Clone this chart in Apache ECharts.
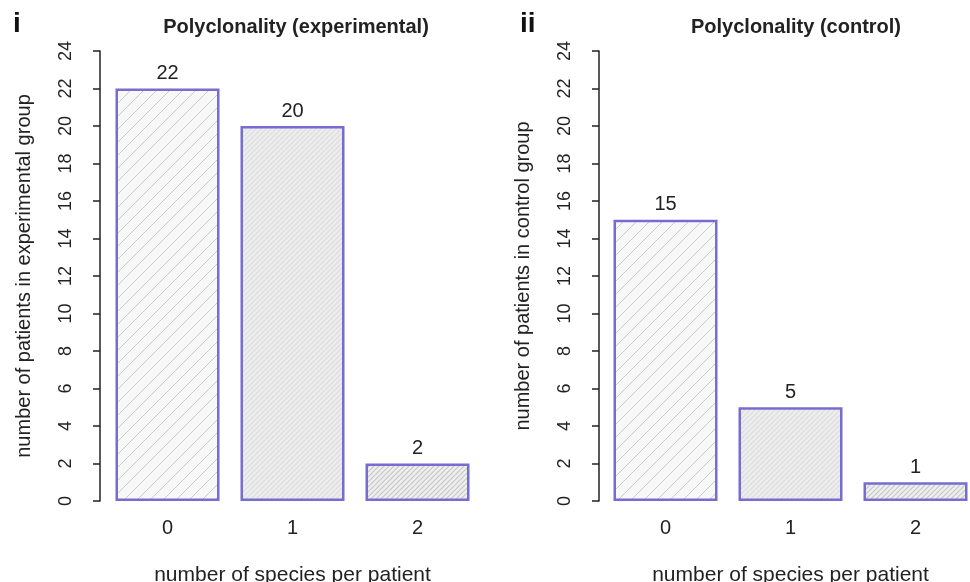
<!DOCTYPE html>
<html>
<head>
<meta charset="utf-8">
<script src="https://cdn.jsdelivr.net/npm/echarts@6/dist/echarts.min.js"></script>
<style>
html,body{margin:0;padding:0;background:#fff;}
#chart{width:970px;height:582px;}
</style>
</head>
<body>
<div id="chart"></div>
<script>
const categories = ['0', '1', '2'];
const experimentalValues = [22, 20, 2];
const controlValues = [15, 5, 1];
const yTicks = [0, 2, 4, 6, 8, 10, 12, 14, 16, 18, 20, 22, 24];
const titles = ['Polyclonality (experimental)', 'Polyclonality (control)'];
const panelLabels = ['i', 'ii'];
const yNames = ['number of patients in experimental group', 'number of patients in control group'];
const xName = 'number of species per patient';

function hatch(size, bg, line, lw) {
  const c = document.createElement('canvas');
  c.width = size; c.height = size;
  const ctx = c.getContext('2d');
  ctx.fillStyle = bg; ctx.fillRect(0, 0, size, size);
  ctx.strokeStyle = line; ctx.lineWidth = lw;
  ctx.beginPath();
  for (let k = -1; k <= 1; k++) {
    ctx.moveTo(k * size, size);
    ctx.lineTo(k * size + size, 0);
  }
  ctx.stroke();
  return c;
}
const patterns = [
  { image: hatch(13, '#f8f8f8', '#cbcbcb', 1), repeat: 'repeat' },
  { image: hatch(5, '#ededed', '#dcdcdc', 1.2), repeat: 'repeat' },
  { image: hatch(5, '#eeeeee', '#c6c6c6', 1.2), repeat: 'repeat' }
];

const font = 'Liberation Sans, Arial, sans-serif';
const border = '#776dcf';
const textColor = '#222';

function mkData(vals) {
  return vals.map((v, i) => ({ value: v, itemStyle: { color: patterns[i] } }));
}

const grids = [
  { left: 105, top: 51, width: 375, height: 450, containLabel: false, outerBoundsMode: 'none' },
  { left: 603, top: 51, width: 375, height: 450, containLabel: false, outerBoundsMode: 'none' }
];
const yOffsets = [5, 4];

const option = {
  animation: false,
  backgroundColor: '#ffffff',
  title: [
    { text: titles[0], left: 291, top: 12, textAlign: 'center', textStyle: { fontFamily: font, fontSize: 20, fontWeight: 'bold', color: textColor } },
    { text: titles[1], left: 791, top: 12, textAlign: 'center', textStyle: { fontFamily: font, fontSize: 20, fontWeight: 'bold', color: textColor } },
    { text: panelLabels[0], left: 8, top: 5, textStyle: { fontFamily: font, fontSize: 28, fontWeight: 'bold', color: '#111' } },
    { text: panelLabels[1], left: 515, top: 5, textStyle: { fontFamily: font, fontSize: 28, fontWeight: 'bold', color: '#111' } }
  ],
  grid: grids,
  xAxis: [0, 1].map(i => ({
    type: 'category', gridIndex: i, data: categories,
    axisLine: { show: false }, axisTick: { show: false },
    axisLabel: { fontFamily: font, fontSize: 20, color: textColor, margin: 17 },
    name: xName, nameLocation: 'middle', nameGap: 64,
    nameTextStyle: { fontFamily: font, fontSize: 21, color: textColor }
  })),
  yAxis: [0, 1].map(i => ({
    type: 'value', gridIndex: i, min: 0, max: 24, interval: 2,
    offset: yOffsets[i],
    splitLine: { show: false },
    axisLine: { show: true, lineStyle: { color: textColor, width: 1.5 } },
    axisTick: { show: true, length: 7, lineStyle: { color: textColor, width: 1.5 } },
    axisLabel: { rotate: 90, fontFamily: font, fontSize: 18, color: textColor, margin: 25,
      hideOverlap: false,
      formatter: v => yTicks.includes(v) ? String(v) : '' },
    name: yNames[i], nameLocation: 'middle', nameGap: 66,
    nameTextStyle: { fontFamily: font, fontSize: 20, color: textColor }
  })),
  series: [
    { type: 'bar', xAxisIndex: 0, yAxisIndex: 0, data: mkData(experimentalValues), barWidth: 104,
      itemStyle: { borderColor: border, borderWidth: 2.5 },
      label: { show: true, position: 'top', distance: 5, fontFamily: font, fontSize: 20, color: textColor } },
    { type: 'bar', xAxisIndex: 1, yAxisIndex: 1, data: mkData(controlValues), barWidth: 104,
      itemStyle: { borderColor: border, borderWidth: 2.5 },
      label: { show: true, position: 'top', distance: 5, fontFamily: font, fontSize: 20, color: textColor } }
  ]
};
const chart = echarts.init(document.getElementById('chart'), null, { renderer: 'canvas' });
chart.setOption(option);
</script>
</body>
</html>
